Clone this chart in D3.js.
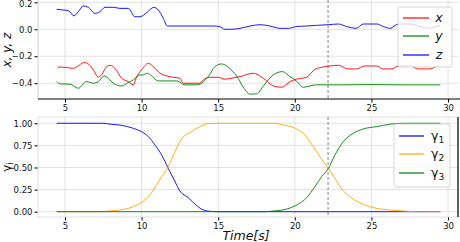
<!DOCTYPE html>
<html><head><meta charset="utf-8">
<script src="https://cdn.jsdelivr.net/npm/d3@7"></script>
<style>body{margin:0;background:#fff}svg{display:block}text{font-family:"DejaVu Sans",sans-serif}</style>
</head><body><svg id="c" width="460" height="242"></svg>
<script>
// ---- data ----
const xT=[4.5,4.6,5.11,5.54,5.8,6.24,6.46,6.85,7.18,7.39,7.72,7.94,8.26,8.7,9.13,9.46,9.68,10.0,10.44,10.77,11.2,11.64,12.07,12.5,12.72,13.81,14.03,14.46,15.0,15.44,15.77,16.42,17.29,17.94,18.6,19.14,19.69,20.12,20.77,21.31,21.75,22.3,22.84,23.47,24.03,24.57,25.33,25.77,26.31,26.76,27.52,28.06,28.83,29.37,29.5];
const xV=[-0.289,-0.28,-0.284,-0.289,-0.277,-0.247,-0.252,-0.301,-0.356,-0.338,-0.277,-0.267,-0.289,-0.363,-0.388,-0.412,-0.353,-0.30,-0.252,-0.277,-0.326,-0.346,-0.356,-0.363,-0.4,-0.4,-0.375,-0.356,-0.356,-0.37,-0.365,-0.351,-0.326,-0.363,-0.42,-0.43,-0.388,-0.37,-0.356,-0.297,-0.282,-0.272,-0.267,-0.294,-0.294,-0.272,-0.272,-0.294,-0.294,-0.272,-0.272,-0.294,-0.294,-0.272,-0.275];
const yT=[4.46,4.68,5.33,5.87,6.41,6.85,7.18,7.55,7.83,8.15,8.7,9.13,9.46,9.9,10.11,10.37,10.66,11.09,11.64,12.29,12.83,13.59,13.92,14.35,14.79,15.22,15.77,16.2,16.64,17.07,17.51,17.95,18.6,19.2,19.69,20.1,20.56,20.99,21.42,23,25,27,29.5];
const yV=[-0.388,-0.405,-0.407,-0.437,-0.388,-0.4,-0.388,-0.346,-0.363,-0.4,-0.42,-0.395,-0.375,-0.338,-0.338,-0.326,-0.346,-0.383,-0.383,-0.383,-0.412,-0.412,-0.4,-0.351,-0.277,-0.257,-0.292,-0.346,-0.43,-0.481,-0.479,-0.42,-0.338,-0.314,-0.351,-0.383,-0.43,-0.42,-0.412,-0.412,-0.41,-0.412,-0.412];
const zT=[4.46,4.89,5.22,5.59,5.87,6.19,6.52,6.96,7.28,7.61,8.15,8.59,9.13,9.57,9.9,10.33,10.8,11.09,11.42,11.68,12.5,14.68,15.1,15.44,15.9,16.42,17.08,17.73,18.38,19.03,19.58,20.1,20.77,21.42,22.19,22.84,23.39,24.0,24.47,25.35,25.78,26.21,26.76,27.52,28.17,28.82,29.26,29.5];
const zV=[0.148,0.143,0.138,0.099,0.13,0.173,0.163,0.118,0.13,0.163,0.163,0.155,0.155,0.093,0.093,0.123,0.163,0.143,0.081,0.024,0.024,0.024,0.02,0.0,0.0,0.007,0.024,0.034,0.024,0.007,0.007,0.02,0.024,0.029,0.034,0.039,0.02,0.007,0.039,0.039,0.02,0.007,0.039,0.039,0.02,0.007,0.024,0.03];
const g1T=[4.46,7.5,7.94,8.59,9.46,10.0,10.44,10.87,11.31,11.74,12.18,12.5,13.05,13.6,14.03,14.46,15,29.5];
const g1V=[1,1,0.99,0.98,0.943,0.905,0.85,0.755,0.642,0.49,0.34,0.234,0.158,0.068,0.019,0.004,0,0];
const g2T=[4.46,7.3,7.94,8.59,9.46,10.0,10.44,10.87,11.31,11.74,12.18,12.61,13.26,13.81,14.35,15,18.6,19.25,20.12,20.66,21.2,21.64,22.19,22.62,23.06,23.6,24.47,25.33,26.21,27.08,27.95,29.5];
const g2V=[0,0,0.008,0.019,0.057,0.105,0.17,0.272,0.396,0.51,0.68,0.823,0.905,0.962,0.996,1,1,0.98,0.936,0.868,0.736,0.623,0.49,0.377,0.257,0.17,0.083,0.038,0.019,0.008,0,0];
const g3T=[4.46,18,18.6,19.47,20.12,20.77,21.31,21.75,22.19,22.62,23.16,23.81,24.47,25.33,26.21,27.08,29.5];
const g3V=[0,0,0.008,0.03,0.075,0.158,0.283,0.396,0.49,0.642,0.792,0.886,0.936,0.962,0.989,1,1];
const switchT=22.17;
const xTicks=[5,10,15,20,25,30];
const topTicks=[0.2,0.0,-0.2,-0.4];
const botTicks=[0,0.25,0.5,0.75,1.0];

// ---- drawing ----
const svg=d3.select("#c");
const L=38,R=458;
const x=d3.scaleLinear().domain([3.24,30.65]).range([L,R]);
const yTop=d3.scaleLinear().domain([-0.517,0.217]).range([99,0]);
const yBot=d3.scaleLinear().domain([-0.06,1.071]).range([217,117]);
const grid="#dcdcdc";
const fmtMinus=s=>s.replace("-","\u2212");

function panel(y,ticks,fmt,top,bot){
  const g=svg.append("g");
  g.selectAll(".vx").data(xTicks).join("line").attr("x1",d=>x(d)).attr("x2",d=>x(d)).attr("y1",top).attr("y2",bot).attr("stroke",grid).attr("stroke-width",0.8);
  g.selectAll(".hy").data(ticks).join("line").attr("x1",L).attr("x2",R).attr("y1",d=>y(d)).attr("y2",d=>y(d)).attr("stroke",grid).attr("stroke-width",0.8);
  const ya=d3.axisLeft(y).tickValues(ticks).tickFormat(d=>fmtMinus(fmt(d))).tickSize(3.5).tickPadding(2);
  const yg=g.append("g").attr("transform",`translate(${L},0)`).call(ya);
  yg.select(".domain").remove();
  yg.selectAll("text").attr("font-size",8.5).attr("fill","#111");
  const xa=d3.axisBottom(x).tickValues(xTicks).tickFormat(d3.format("d")).tickSize(3.5).tickPadding(2);
  const xg=g.append("g").attr("transform",`translate(0,${bot})`).call(xa);
  xg.select(".domain").remove();
  xg.selectAll("text").attr("font-size",8.5).attr("fill","#111");
  return {g,yg};
}
const line=(yS)=>d3.line().x(d=>x(d[0])).y(d=>yS(d[1])).curve(d3.curveMonotoneX);
const pairs=(T,V)=>T.map((t,i)=>[t,V[i]]);

// top panel
const pt=panel(yTop,topTicks,d3.format(".1f"),0,99);
const gt=pt.g;
// keep the topmost tick label inside the picture
pt.yg.selectAll(".tick text").filter(d=>d===0.2).attr("dy","0.55em");
gt.append("line").attr("x1",L).attr("x2",L).attr("y1",0).attr("y2",99).attr("stroke","#cfcfcf");
gt.append("line").attr("x1",x(switchT)).attr("x2",x(switchT)).attr("y1",0).attr("y2",99).attr("stroke","#777").attr("stroke-dasharray","3,2").attr("stroke-width",0.9);
[[xT,xV,"red"],[yT,yV,"green"],[zT,zV,"blue"]].forEach(([T,V,c])=>{
  gt.append("path").attr("d",line(yTop)(pairs(T,V))).attr("fill","none").attr("stroke",c).attr("stroke-width",0.9);
});
gt.append("line").attr("x1",L).attr("x2",460).attr("y1",99).attr("y2",99).attr("stroke","#000").attr("stroke-width",1.2);

// bottom panel
const gb=panel(yBot,botTicks,d3.format(".2f"),117,217).g;
gb.append("rect").attr("x",L).attr("y",117).attr("width",R-L).attr("height",100).attr("fill","none").attr("stroke","#d8d8d8").attr("stroke-width",0.8);
gb.append("line").attr("x1",x(switchT)).attr("x2",x(switchT)).attr("y1",117).attr("y2",217).attr("stroke","#777").attr("stroke-dasharray","3,2").attr("stroke-width",0.9);
[[g1T,g1V,"blue"],[g2T,g2V,"orange"],[g3T,g3V,"green"]].forEach(([T,V,c])=>{
  gb.append("path").attr("d",line(yBot)(pairs(T,V))).attr("fill","none").attr("stroke",c).attr("stroke-width",0.9);
});
gb.append("line").attr("x1",R).attr("x2",R).attr("y1",117).attr("y2",217).attr("stroke","#000").attr("stroke-width",1.2);

// legends
function legend(x0,y0,w,h,items,rows,lx0,lx1,tx){
  const g=svg.append("g");
  g.append("rect").attr("x",x0).attr("y",y0).attr("width",w).attr("height",h).attr("rx",2).attr("fill","#fff").attr("fill-opacity",0.8).attr("stroke","#cccccc").attr("stroke-width",0.8);
  items.forEach((it,i)=>{
    g.append("line").attr("x1",lx0).attr("x2",lx1).attr("y1",rows[i]).attr("y2",rows[i]).attr("stroke",it.c).attr("stroke-width",1.2);
    const t=g.append("text").attr("x",tx).attr("y",rows[i]).attr("dy","0.35em").attr("font-size",12.5).attr("fill","#111");
    if(it.sub){
      t.text(it.label);
      t.append("tspan").attr("font-size",9).attr("dy","0.25em").text(it.sub);
    } else t.attr("font-style","italic").attr("text-anchor","middle").text(it.label);
  });
}
legend(398,7,54,60,[{label:"x",c:"red"},{label:"y",c:"green"},{label:"z",c:"blue"}],[18,36,55],403,429,439);
legend(394,124,56,63,[{label:"γ",sub:"1",c:"blue"},{label:"γ",sub:"2",c:"orange"},{label:"γ",sub:"3",c:"green"}],[136,154,173],399,424,431);

// axis labels
svg.append("text").attr("transform","translate(11,50) rotate(-90)").attr("text-anchor","middle").attr("font-size",12).attr("font-style","italic").attr("fill","#111").text("x, y, z");
const gl=svg.append("text").attr("transform","translate(11,167) rotate(-90)").attr("text-anchor","middle").attr("font-size",12).attr("fill","#111").text("γ");
gl.append("tspan").attr("font-size",8.5).attr("dy","0.25em").text("i");
svg.append("text").attr("x",246).attr("y",240).attr("text-anchor","middle").attr("font-size",12.5).attr("font-style","italic").attr("fill","#111").text("Time[s]");
</script></body></html>
